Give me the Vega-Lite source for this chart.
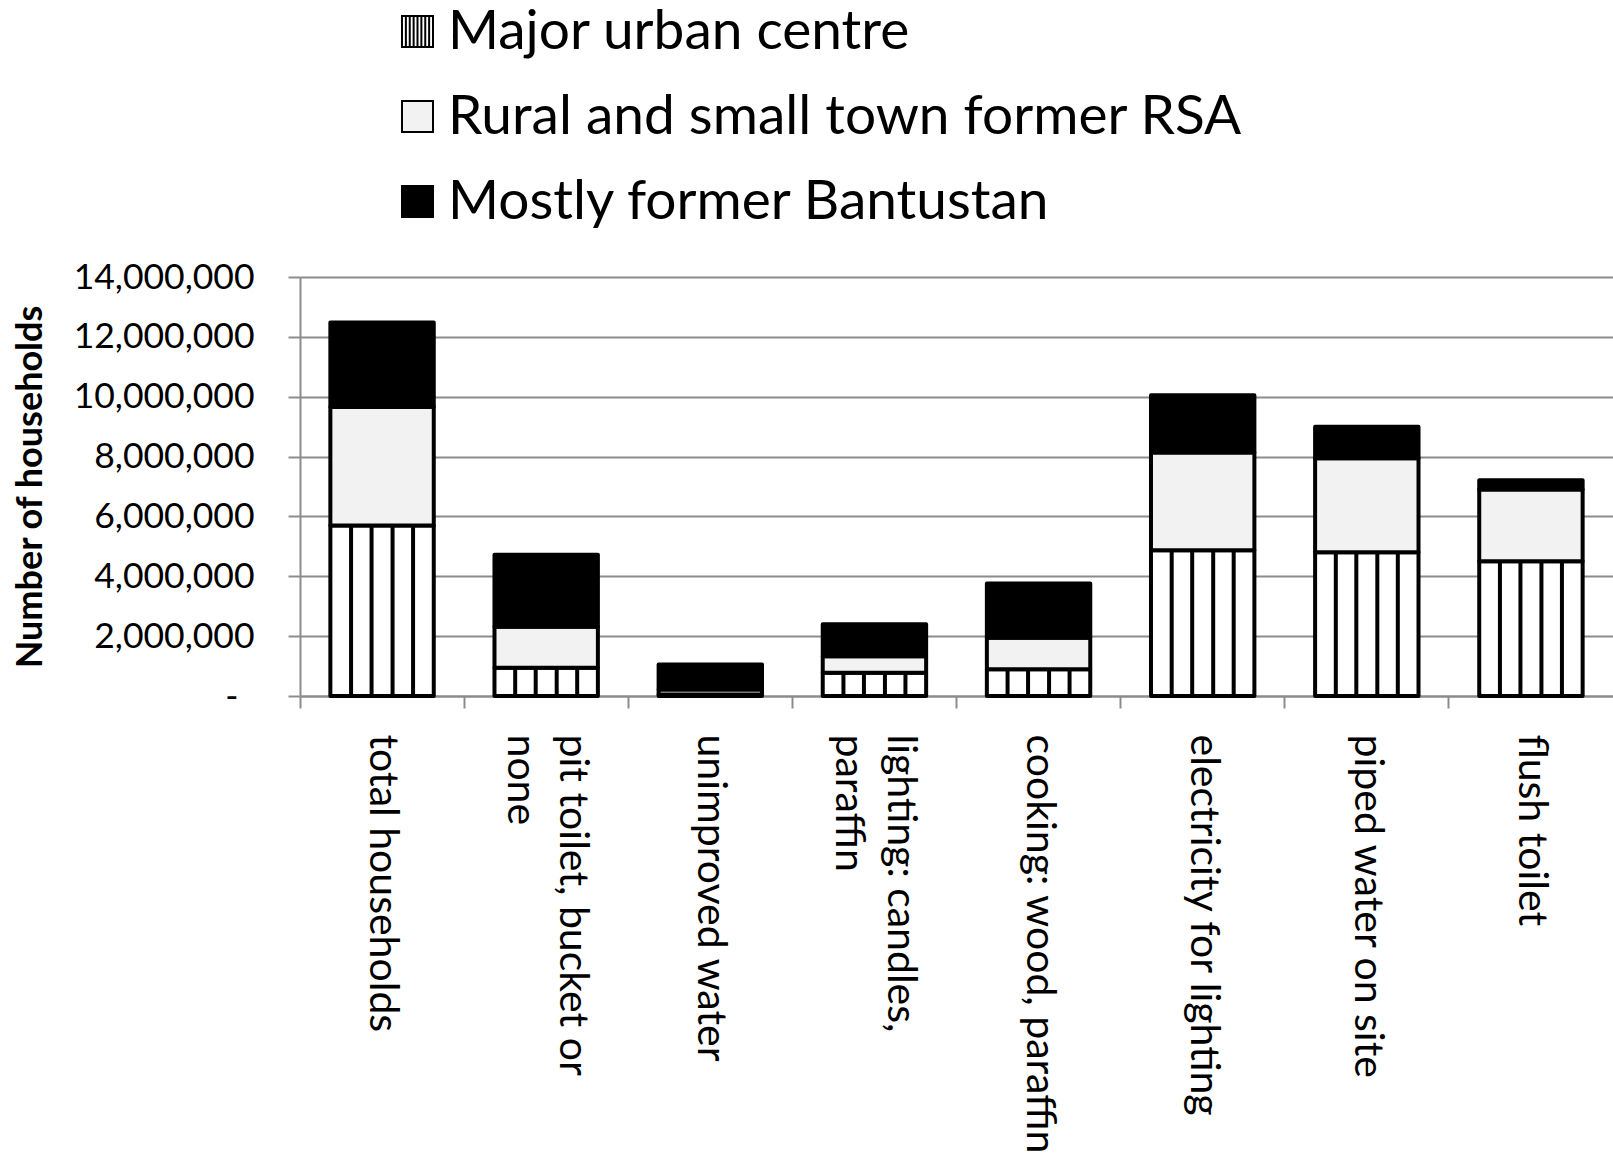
{
  "$schema": "https://vega.github.io/schema/vega-lite/v6.json",
  "width": 1313,
  "height": 419,
  "autosize": "none",
  "padding": {"left": 300, "top": 277, "right": 0, "bottom": 461},
  "background": "white",
  "config": {"font": "Lato", "view": {"stroke": null}},
  "data": {
    "values": [
      {"category": "total households", "region": "Major urban centre", "value": 5700000},
      {"category": "total households", "region": "Rural and small town former RSA", "value": 3960000},
      {"category": "total households", "region": "Mostly former Bantustan", "value": 2820000},
      {"category": "pit toilet, bucket or none", "region": "Major urban centre", "value": 940000},
      {"category": "pit toilet, bucket or none", "region": "Rural and small town former RSA", "value": 1370000},
      {"category": "pit toilet, bucket or none", "region": "Mostly former Bantustan", "value": 2410000},
      {"category": "unimproved water", "region": "Major urban centre", "value": 50000},
      {"category": "unimproved water", "region": "Rural and small town former RSA", "value": 170000},
      {"category": "unimproved water", "region": "Mostly former Bantustan", "value": 830000},
      {"category": "lighting: candles, paraffin", "region": "Major urban centre", "value": 780000},
      {"category": "lighting: candles, paraffin", "region": "Rural and small town former RSA", "value": 550000},
      {"category": "lighting: candles, paraffin", "region": "Mostly former Bantustan", "value": 1070000},
      {"category": "cooking: wood, paraffin", "region": "Major urban centre", "value": 890000},
      {"category": "cooking: wood, paraffin", "region": "Rural and small town former RSA", "value": 1060000},
      {"category": "cooking: wood, paraffin", "region": "Mostly former Bantustan", "value": 1810000},
      {"category": "electricity for lighting", "region": "Major urban centre", "value": 4870000},
      {"category": "electricity for lighting", "region": "Rural and small town former RSA", "value": 3270000},
      {"category": "electricity for lighting", "region": "Mostly former Bantustan", "value": 1910000},
      {"category": "piped water on site", "region": "Major urban centre", "value": 4800000},
      {"category": "piped water on site", "region": "Rural and small town former RSA", "value": 3140000},
      {"category": "piped water on site", "region": "Mostly former Bantustan", "value": 1060000},
      {"category": "flush toilet", "region": "Major urban centre", "value": 4500000},
      {"category": "flush toilet", "region": "Rural and small town former RSA", "value": 2400000},
      {"category": "flush toilet", "region": "Mostly former Bantustan", "value": 310000}
    ]
  },
  "encoding": {
    "x": {
      "field": "category",
      "type": "nominal",
      "sort": null,
      "scale": {"paddingInner": 0, "paddingOuter": 0},
      "axis": {
        "title": null,
        "bandPosition": 0,
        "labelAngle": 90,
        "labelAlign": "left",
        "labelBaseline": "middle",
        "labelFontSize": 41,
        "labelLineHeight": 52,
        "labelColor": "black",
        "labelLimit": 0,
        "labelPadding": 26,
        "labelExpr": "datum.label == 'pit toilet, bucket or none' ? ['pit toilet, bucket or', 'none'] : datum.label == 'lighting: candles, paraffin' ? ['lighting: candles,', 'paraffin'] : datum.label",
        "labelOffset": {
          "condition": {"test": "datum.value == 'pit toilet, bucket or none' || datum.value == 'lighting: candles, paraffin'", "value": 26},
          "value": 0
        },
        "tickSize": 12,
        "tickWidth": 2,
        "tickColor": "#8c8c8c",
        "domainColor": "#8c8c8c",
        "domainWidth": 2,
        "grid": false
      }
    },
    "y": {
      "field": "value",
      "type": "quantitative",
      "scale": {"domain": [0, 14000000], "nice": false},
      "axis": {
        "title": "Number of households",
        "titleFontSize": 36,
        "titleFontWeight": "bold",
        "titleColor": "black",
        "titlePadding": 51,
        "values": [0, 2000000, 4000000, 6000000, 8000000, 10000000, 12000000, 14000000],
        "labelExpr": "datum.value == 0 ? '-' : format(datum.value, ',')",
        "labelPadding": {
          "condition": {"test": "datum.value == 0", "value": 50},
          "value": 34
        },
        "labelFontSize": 35.5,
        "labelColor": "black",
        "labelLimit": 0,
        "tickSize": 12,
        "tickWidth": 2,
        "tickColor": "#8c8c8c",
        "domainColor": "#8c8c8c",
        "domainWidth": 2,
        "grid": true,
        "gridColor": "#8c8c8c",
        "gridWidth": 2
      }
    }
  },
  "layer": [
    {
      "transform": [
        {"calculate": "indexof(['Major urban centre', 'Rural and small town former RSA', 'Mostly former Bantustan'], datum.region)", "as": "stackOrder"}
      ],
      "mark": {"type": "bar", "width": {"band": 0.63}, "stroke": "black", "strokeWidth": 4, "strokeJoin": "round"},
      "encoding": {
        "order": {"field": "stackOrder", "type": "quantitative", "sort": "ascending"},
        "color": {
          "field": "region",
          "type": "nominal",
          "sort": ["Major urban centre", "Rural and small town former RSA", "Mostly former Bantustan"],
          "scale": {
            "domain": ["Major urban centre", "Rural and small town former RSA", "Mostly former Bantustan"],
            "range": ["#ffffff", "#f2f2f2", "#000000"]
          },
          "legend": {
            "title": null,
            "orient": "none",
            "legendX": 90,
            "legendY": -273,
            "direction": "vertical",
            "symbolType": "square",
            "symbolSize": 961,
            "symbolStrokeColor": "black",
            "symbolStrokeWidth": 2,
            "symbolOpacity": 1,
            "labelFontSize": 55,
            "labelColor": "black",
            "labelLimit": 0,
            "labelOffset": 3,
            "rowPadding": 29,
            "encode": {
              "symbols": {
                "update": {
                  "shape": {"signal": "datum.value === 'Major urban centre' ? 'M-1,-1H1V1H-1Z M-0.75,-1V1 M-0.5,-1V1 M-0.25,-1V1 M0,-1V1 M0.25,-1V1 M0.5,-1V1 M0.75,-1V1' : 'square'"}
                }
              }
            }
          }
        }
      }
    },
    {
      "transform": [{"filter": "datum.region == 'Major urban centre'"}],
      "mark": {"type": "rule", "xOffset": -31, "stroke": "black", "strokeWidth": 4},
      "encoding": {"y2": {"datum": 0}}
    },
    {
      "transform": [{"filter": "datum.region == 'Major urban centre'"}],
      "mark": {"type": "rule", "xOffset": -10.5, "stroke": "black", "strokeWidth": 4},
      "encoding": {"y2": {"datum": 0}}
    },
    {
      "transform": [{"filter": "datum.region == 'Major urban centre'"}],
      "mark": {"type": "rule", "xOffset": 10.5, "stroke": "black", "strokeWidth": 4},
      "encoding": {"y2": {"datum": 0}}
    },
    {
      "transform": [{"filter": "datum.region == 'Major urban centre'"}],
      "mark": {"type": "rule", "xOffset": 31, "stroke": "black", "strokeWidth": 4},
      "encoding": {"y2": {"datum": 0}}
    }
  ]
}
